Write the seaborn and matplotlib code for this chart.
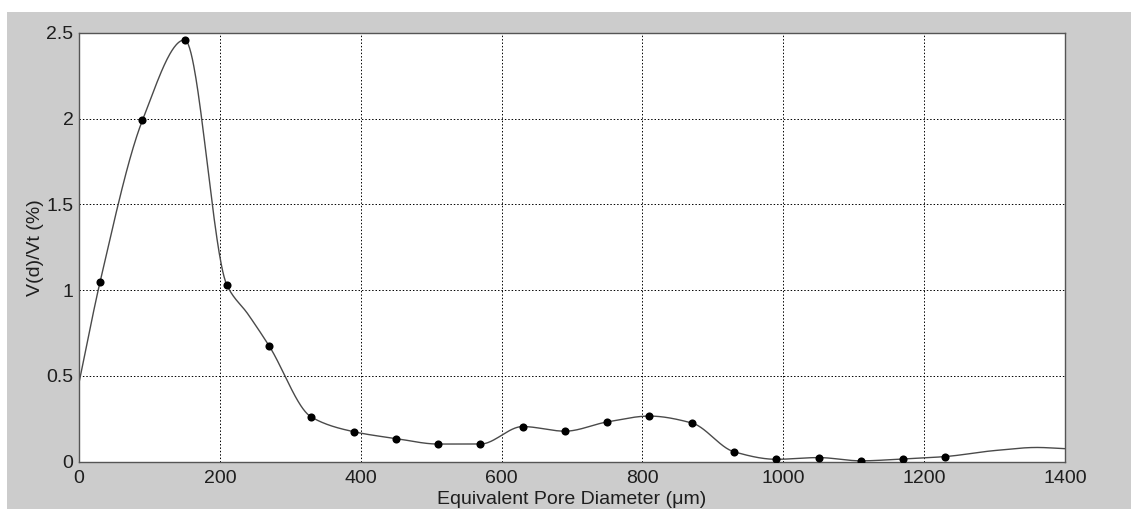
import numpy as np
import pandas as pd
import matplotlib
matplotlib.use("Agg")
import matplotlib.pyplot as plt
import seaborn as sns

# measured points
diameter = [30, 90, 150, 210, 270, 330, 390, 450, 510, 570, 630, 690, 750,
            810, 870, 930, 990, 1050, 1110, 1170, 1230]
volume = [1.05, 1.99, 2.46, 1.03, 0.675, 0.26, 0.175, 0.135, 0.103, 0.103,
          0.205, 0.178, 0.232, 0.266, 0.226, 0.058, 0.014, 0.024, 0.005,
          0.016, 0.03]

# fitted curve knots (curve runs past the measured points at both ends)
curve_x = [0, 30, 90, 150, 210, 240, 270, 330, 390, 450, 510, 570, 630, 690,
           750, 810, 870, 930, 990, 1050, 1110, 1170, 1230, 1300, 1360, 1400]
curve_y = [0.46, 1.05, 1.99, 2.46, 1.03, 0.86, 0.675, 0.26, 0.175, 0.135,
           0.103, 0.103, 0.205, 0.178, 0.232, 0.266, 0.226, 0.058, 0.014,
           0.024, 0.005, 0.016, 0.03, 0.065, 0.083, 0.076]

x_ticks = [0, 200, 400, 600, 800, 1000, 1200, 1400]
y_ticks = [0, 0.5, 1, 1.5, 2, 2.5]
y_tick_labels = ["0", "0.5", "1", "1.5", "2", "2.5"]


def pchip(x, y, xs):
    # shape-preserving cubic through the knots
    x = np.asarray(x, float)
    y = np.asarray(y, float)
    h = np.diff(x)
    d = np.diff(y) / h
    m = np.zeros_like(y)
    for k in range(1, len(x) - 1):
        if d[k - 1] * d[k] > 0:
            w1 = 2 * h[k] + h[k - 1]
            w2 = h[k] + 2 * h[k - 1]
            m[k] = (w1 + w2) / (w1 / d[k - 1] + w2 / d[k])
    m[0] = d[0]
    m[-1] = d[-1]
    idx = np.clip(np.searchsorted(x, xs) - 1, 0, len(h) - 1)
    t = (xs - x[idx]) / h[idx]
    h00 = 2 * t**3 - 3 * t**2 + 1
    h10 = t**3 - 2 * t**2 + t
    h01 = -2 * t**3 + 3 * t**2
    h11 = t**3 - t**2
    return (h00 * y[idx] + h10 * h[idx] * m[idx]
            + h01 * y[idx + 1] + h11 * h[idx] * m[idx + 1])


xs = np.linspace(curve_x[0], curve_x[-1], 1401)
curve = pd.DataFrame({"d": xs, "v": pchip(curve_x, curve_y, xs)})
points = pd.DataFrame({"d": diameter, "v": volume})

sns.set_style("white")
plt.rcParams["font.family"] = ["Liberation Sans", "DejaVu Sans"]

fig = plt.figure(figsize=(11.31, 5.09), dpi=100, facecolor="white")
fig.patches.append(plt.Rectangle((7 / 1131, 0), 1, (509 - 12) / 509,
                                 transform=fig.transFigure,
                                 facecolor="#cccccc", edgecolor="none",
                                 zorder=-10))
ax = fig.add_axes([79 / 1131, (509 - 461.7) / 509, 986 / 1131, 428.7 / 509])
ax.set_facecolor("white")

sns.lineplot(data=curve, x="d", y="v", ax=ax, color="#4a4a4a", lw=1.0,
             sort=False, estimator=None)
sns.scatterplot(data=points, x="d", y="v", ax=ax, color="black", s=34,
                edgecolor="black", linewidth=0, zorder=3)

ax.set_xlim(0, 1400)
ax.set_ylim(0, 2.5)
ax.set_xticks(x_ticks)
ax.set_yticks(y_ticks)
ax.set_yticklabels(y_tick_labels)
ax.grid(True, linestyle=(0, (1.5, 2)), color="black", linewidth=0.7)
ax.tick_params(direction="in", length=4, width=0.8, colors="#333333",
               labelsize=14, labelcolor="#1e1e1e")
ax.tick_params(axis="x", pad=6)
ax.tick_params(axis="y", pad=4)
for s in ax.spines.values():
    s.set_color("#555555")
    s.set_linewidth(1.0)

ax.set_xlabel("Equivalent Pore Diameter (\u03bcm)", fontsize=14,
              color="#1e1e1e", labelpad=3)
ax.set_ylabel("V(d)/Vt (%)", fontsize=14, color="#1e1e1e", labelpad=2)

fig.savefig("out.png", dpi=100, facecolor=fig.get_facecolor())
